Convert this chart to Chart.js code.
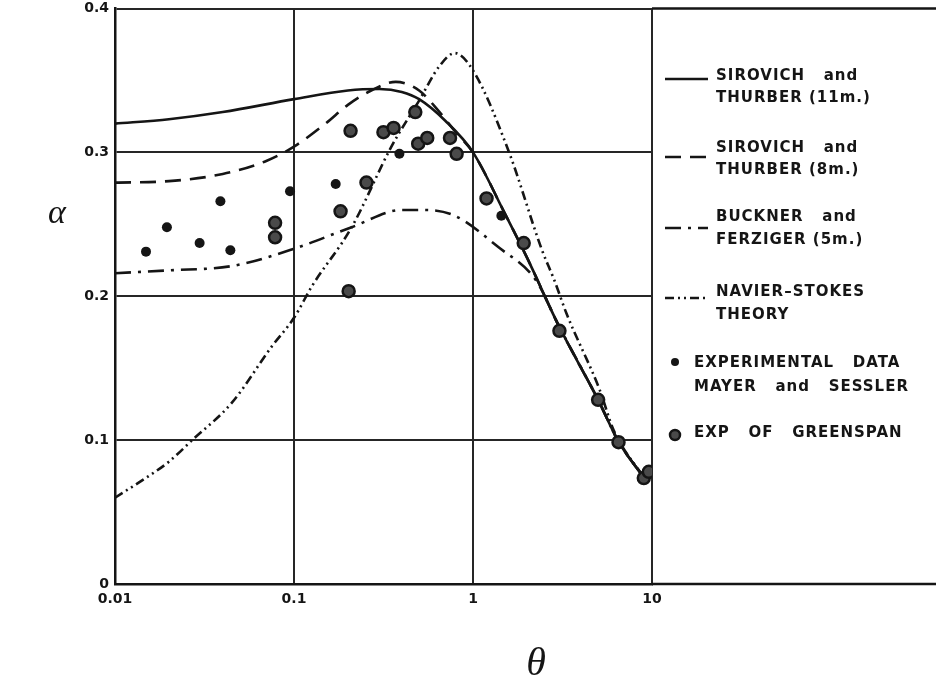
<!DOCTYPE html>
<html>
<head>
<meta charset="utf-8">
<script src="https://cdn.jsdelivr.net/npm/chart.js@4.4.1/dist/chart.umd.min.js"></script>
<style>
  html, body { margin: 0; padding: 0; background: #fff; }
</style>
</head>
<body>
<canvas id="alphaChart" width="936" height="684"></canvas>
<script>
// Absorption coefficient alpha against theta, theory curves and measured points

const xTicks = [0.01, 0.1, 1, 10];
const xTickLabels = ['0.01', '0.1', '1', '10'];
const yTicks = [0, 0.1, 0.2, 0.3, 0.4];
const yTickLabels = ['0', '0.1', '0.2', '0.3', '0.4'];

// Sirovich and Thurber, 11 moments
const st11Theta = [0.01, 0.02, 0.04, 0.1, 0.2, 0.3, 0.4, 0.5, 0.7, 1, 1.5, 2, 3, 5, 6.5, 9];
const st11Alpha = [0.320, 0.323, 0.328, 0.337, 0.343, 0.344, 0.342, 0.337, 0.322, 0.300, 0.258, 0.227, 0.180, 0.128, 0.099, 0.074];

// Sirovich and Thurber, 8 moments
const st8Theta = [0.01, 0.02, 0.04, 0.07, 0.1, 0.15, 0.2, 0.27, 0.37, 0.5, 0.64, 0.8, 1, 1.5, 2, 3, 5, 6.5, 9];
const st8Alpha = [0.279, 0.280, 0.285, 0.294, 0.304, 0.320, 0.333, 0.343, 0.349, 0.343, 0.329, 0.314, 0.300, 0.258, 0.227, 0.180, 0.128, 0.099, 0.074];

// Buckner and Ferziger, 5 moments
const bfTheta = [0.01, 0.02, 0.045, 0.1, 0.21, 0.4, 0.54, 0.79, 1.39, 2.25, 3, 5, 6.5, 9];
const bfAlpha = [0.216, 0.218, 0.221, 0.233, 0.248, 0.260, 0.260, 0.256, 0.234, 0.211, 0.180, 0.128, 0.099, 0.074];

// Navier-Stokes theory
const nsTheta = [0.01, 0.015, 0.02, 0.027, 0.045, 0.075, 0.1, 0.126, 0.21, 0.35, 0.5, 0.65, 0.79, 1, 1.58, 2.43, 2.85, 3.33, 5.1, 6.1, 9];
const nsAlpha = [0.060, 0.074, 0.085, 0.100, 0.126, 0.165, 0.185, 0.207, 0.248, 0.304, 0.336, 0.360, 0.369, 0.357, 0.301, 0.232, 0.211, 0.188, 0.135, 0.107, 0.074];

// Mayer and Sessler measurements
const msTheta = [0.0149, 0.0195, 0.0297, 0.0388, 0.0441, 0.095, 0.171, 0.388, 1.44];
const msAlpha = [0.231, 0.248, 0.237, 0.266, 0.232, 0.273, 0.278, 0.299, 0.256];

// Greenspan measurements
const gsTheta = [0.0784, 0.0784, 0.182, 0.202, 0.207, 0.254, 0.316, 0.36, 0.476, 0.494, 0.555, 0.744, 0.81, 1.19, 1.92, 3.04, 5.0, 6.5, 9.0, 9.6];
const gsAlpha = [0.251, 0.241, 0.259, 0.2035, 0.315, 0.279, 0.314, 0.317, 0.328, 0.306, 0.310, 0.310, 0.299, 0.268, 0.237, 0.176, 0.128, 0.0986, 0.0736, 0.078];

const seriesNames = [
  ['SIROVICH   and', 'THURBER (11m.)'],
  ['SIROVICH   and', 'THURBER (8m.)'],
  ['BUCKNER   and', 'FERZIGER (5m.)'],
  ['NAVIER\u2013STOKES', 'THEORY'],
  ['EXPERIMENTAL   DATA', 'MAYER   and   SESSLER'],
  ['EXP   OF   GREENSPAN']
];

const ink = '#151515';
const boldFont = '"DejaVu Sans", "Liberation Sans", Arial, sans-serif';

function toPoints(xs, ys) {
  return xs.map((x, i) => ({ x: x, y: ys[i] }));
}

function curve(name, xs, ys, dash) {
  return {
    label: name.join(' '),
    data: toPoints(xs, ys),
    showLine: true,
    borderColor: ink,
    borderWidth: 2.6,
    borderDash: dash,
    pointRadius: 0,
    cubicInterpolationMode: 'monotone',
    order: 2
  };
}

const datasets = [
  curve(seriesNames[0], st11Theta, st11Alpha, []),
  curve(seriesNames[1], st8Theta, st8Alpha, [16, 9]),
  curve(seriesNames[2], bfTheta, bfAlpha, [16, 7, 3, 7]),
  curve(seriesNames[3], nsTheta, nsAlpha, [9, 4, 2, 4, 2, 4]),
  {
    label: seriesNames[4].join(' '),
    data: toPoints(msTheta, msAlpha),
    showLine: false,
    pointRadius: 5,
    pointBackgroundColor: ink,
    pointBorderColor: ink,
    pointBorderWidth: 0,
    order: 1
  },
  {
    label: seriesNames[5].join(' '),
    data: toPoints(gsTheta, gsAlpha),
    showLine: false,
    pointRadius: 6,
    pointBackgroundColor: '#4a4a4a',
    pointBorderColor: ink,
    pointBorderWidth: 2.5,
    order: 0
  }
];

// legend box, axis symbols and the frame running past the last decade
const decorations = {
  id: 'decorations',
  afterDraw(chart) {
    const ctx = chart.ctx;
    const area = chart.chartArea;
    const W = chart.width;
    ctx.save();

    ctx.strokeStyle = ink;
    ctx.lineWidth = 2.5;
    ctx.beginPath();
    ctx.moveTo(area.right, area.top);
    ctx.lineTo(W, area.top);
    ctx.moveTo(area.right, area.bottom);
    ctx.lineTo(W, area.bottom);
    ctx.stroke();

    ctx.fillStyle = ink;
    ctx.font = 'bold 15px ' + boldFont;
    ctx.letterSpacing = '1px';
    ctx.textBaseline = 'middle';
    ctx.textAlign = 'left';

    const rows = [
      { lines: [76, 98], sample: 79 },
      { lines: [148, 170], sample: 157 },
      { lines: [217, 240], sample: 228 },
      { lines: [292, 315], sample: 298 },
      { lines: [363, 387], marker: 362 },
      { lines: [433], marker: 435 }
    ];

    rows.forEach((row, i) => {
      const ds = datasets[i];
      if (row.sample !== undefined) {
        ctx.setLineDash(ds.borderDash);
        ctx.lineWidth = 2.6;
        ctx.beginPath();
        ctx.moveTo(665, row.sample);
        ctx.lineTo(708, row.sample);
        ctx.stroke();
        ctx.setLineDash([]);
        seriesNames[i].forEach((t, j) => ctx.fillText(t, 716, row.lines[j]));
      } else {
        ctx.beginPath();
        ctx.arc(675, row.marker, ds.pointRadius - 1, 0, Math.PI * 2);
        ctx.fillStyle = ds.pointBackgroundColor;
        ctx.fill();
        if (ds.pointBorderWidth) {
          ctx.lineWidth = ds.pointBorderWidth;
          ctx.strokeStyle = ds.pointBorderColor;
          ctx.stroke();
        }
        ctx.fillStyle = ink;
        seriesNames[i].forEach((t, j) => ctx.fillText(t, 694, row.lines[j]));
      }
    });

    ctx.letterSpacing = '0px';
    ctx.font = 'italic 34px "Liberation Serif", "DejaVu Serif", serif';
    ctx.textAlign = 'center';
    ctx.fillText('\u03b1', 57, 214);
    ctx.font = 'italic 40px "Liberation Serif", "DejaVu Serif", serif';
    ctx.fillText('\u03b8', 536, 664);
    ctx.restore();
  }
};

new Chart(document.getElementById('alphaChart'), {
  type: 'scatter',
  data: { datasets: datasets },
  options: {
    responsive: false,
    animation: false,
    layout: { padding: { left: 0, right: 284, top: 8, bottom: 0 } },
    plugins: {
      legend: { display: false },
      tooltip: { enabled: false }
    },
    scales: {
      x: {
        type: 'logarithmic',
        min: 0.01,
        max: 10,
        afterBuildTicks: (scale) => { scale.ticks = xTicks.map(v => ({ value: v })); },
        afterFit: (scale) => { scale.height = 100; },
        ticks: {
          color: ink,
          font: { family: boldFont, size: 14, weight: 'bold' },
          padding: 7,
          maxRotation: 0,
          autoSkip: false,
          callback: (v) => xTickLabels[xTicks.indexOf(v)]
        },
        grid: { color: '#262626', lineWidth: 2, drawTicks: false },
        border: { color: ink, width: 2.5 }
      },
      y: {
        min: 0,
        max: 0.4,
        afterBuildTicks: (scale) => { scale.ticks = yTicks.map(v => ({ value: v })); },
        afterFit: (scale) => {
          scale.width = 115;
          scale.paddingTop = 0;
          scale.paddingBottom = 0;
        },
        ticks: {
          color: ink,
          font: { family: boldFont, size: 14, weight: 'bold' },
          padding: 6,
          callback: (v) => yTickLabels[yTicks.indexOf(v)]
        },
        grid: { color: '#262626', lineWidth: 2, drawTicks: false },
        border: { color: ink, width: 2.5 }
      }
    }
  },
  plugins: [decorations]
});
</script>
</body>
</html>
